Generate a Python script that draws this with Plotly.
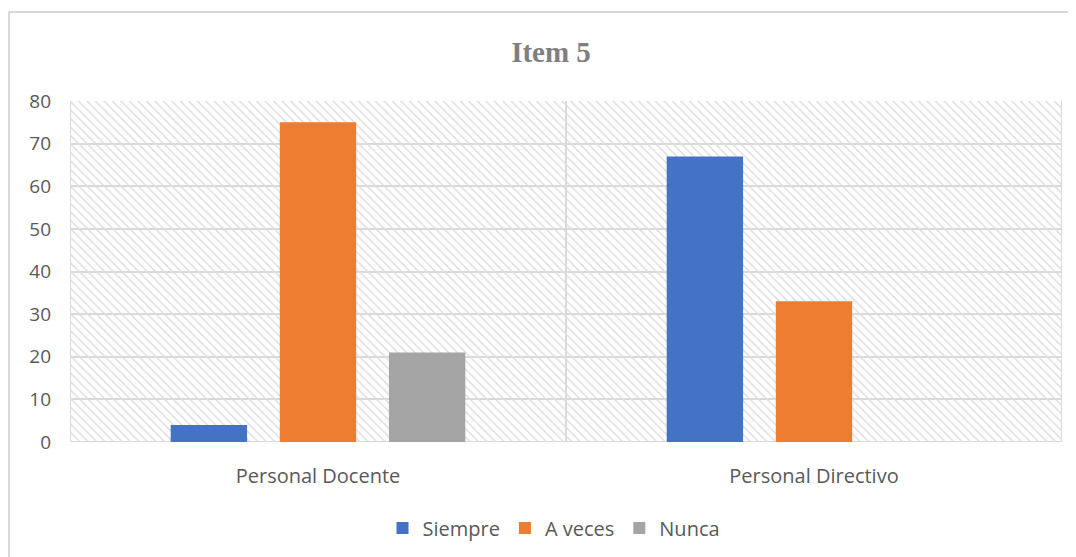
import plotly.graph_objects as go

categories = ["Personal Docente", "Personal Directivo"]
siempre = [4, 67]
a_veces = [75, 33]
nunca = [21, 0]
y_ticks = [0, 10, 20, 30, 40, 50, 60, 70, 80]

colors = {"Siempre": "#4472c4", "A veces": "#ed7d31", "Nunca": "#a5a5a5"}
grid_col = "#d9d9d9"
text_col = "#595959"

# plot area in figure pixels (page adds an 8px body margin)
ml, mr, mt, mb = 62, 22, 93, 123
pw = 1076 - ml - mr
ph = 557 - mt - mb

fig = go.Figure()

# hatched background of the plot area (drawn on the base axes, below the data)
fig.add_trace(go.Bar(
    x=[0.5], y=[y_ticks[-1]], width=[1],
    xaxis="x", yaxis="y",
    marker=dict(color="#dedede", line=dict(width=0),
                pattern=dict(shape="\\", size=6, solidity=0.25, fillmode="replace")),
    showlegend=False, hoverinfo="skip",
))

for name, vals in [("Siempre", siempre), ("A veces", a_veces), ("Nunca", nunca)]:
    fig.add_trace(go.Bar(
        x=categories, y=vals, name=name,
        xaxis="x2", yaxis="y2",
        marker=dict(color=colors[name], line=dict(width=0)),
    ))

fig.update_layout(
    width=1076, height=557,
    paper_bgcolor="white", plot_bgcolor="white",
    margin=dict(l=ml, r=mr, t=mt, b=mb, autoexpand=False),
    title=dict(text="<b>Item 5</b>", x=543 / 1076, xanchor="center",
               y=1 - 44 / 557, yanchor="middle",
               font=dict(family="Liberation Serif", size=29, color="#7f7f7f")),
    font=dict(family="Open Sans", color=text_col),
    barmode="group", bargap=0.34, bargroupgap=0.3,
    xaxis=dict(range=[0, 1], visible=False, fixedrange=True),
    yaxis=dict(range=[0, 80], visible=False),
    xaxis2=dict(overlaying="x", showgrid=False, zeroline=False, showline=False,
                ticks="", tickfont=dict(size=20, color=text_col), ticklabelstandoff=20),
    yaxis2=dict(overlaying="y", range=[0, 80], tickvals=y_ticks, showgrid=True,
                gridcolor=grid_col, gridwidth=2, zeroline=False, showline=False,
                tickfont=dict(size=19, color=text_col), ticklabelstandoff=18),
    legend=dict(orientation="h", x=(546 - ml) / pw, xanchor="center",
                y=-(520 - 434) / ph, yanchor="middle",
                font=dict(size=20, color=text_col), traceorder="normal"),
    showlegend=True,
)

# category boundary lines and outer chart border
for xv in [0, 0.5, 1]:
    fig.add_shape(type="line", xref="x", yref="y", x0=xv, x1=xv, y0=0, y1=80,
                  line=dict(color=grid_col, width=2), layer="below")
fig.add_shape(type="line", xref="x", yref="y", x0=0, x1=1, y0=0, y1=0,
              line=dict(color=grid_col, width=2), layer="below")
fig.add_shape(type="rect", xref="paper", yref="paper",
              x0=-(ml - 1) / pw, x1=1.2, y0=-0.6, y1=1 + (mt - 4) / ph,
              line=dict(color="#d9d9d9", width=2), layer="below")

fig.write_html("out.html")
